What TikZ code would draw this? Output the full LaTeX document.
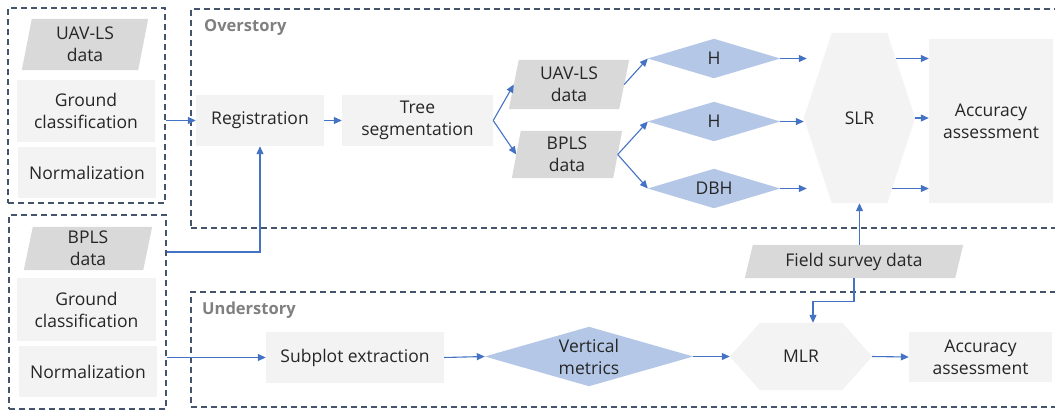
\documentclass[tikz,border=0pt]{standalone}
\usepackage{fontspec}
\setmainfont{Open Sans}
\usetikzlibrary{arrows.meta,calc,backgrounds}

\definecolor{boxgray}{HTML}{F2F3F2}
\definecolor{datagray}{HTML}{D9D9D9}
\definecolor{metricblue}{HTML}{B4C7E7}
\definecolor{flowblue}{HTML}{4472C4}
\definecolor{frameslate}{HTML}{44546A}
\definecolor{inkgray}{HTML}{262626}
\definecolor{labelgray}{HTML}{808080}

\tikzset{
  txt/.style={font=\fontsize{17.5}{22}\selectfont, text=inkgray, align=center, inner sep=0pt},
  procbox/.style={txt, fill=boxgray},
  frame/.style={draw=frameslate, dash pattern=on 6pt off 4pt, line width=1.1pt, inner sep=0pt},
  flow/.style={draw=flowblue, line width=1.1pt, -{Triangle[length=8pt,width=7pt]}},
  tag/.style={font=\fontsize{16.5}{20}\selectfont\bfseries, text=labelgray, inner sep=0pt, anchor=west},
}

% background shapes built from a node's bounding box
\newcommand\datashape[2]{\fill[datagray] (#1.south west) -- ($(#1.north west)+(#2,0)$) -- (#1.north east) -- ($(#1.south east)-(#2,0)$) -- cycle;}
\newcommand\metricshape[1]{\fill[metricblue] (#1.west) -- (#1.north) -- (#1.east) -- (#1.south) -- cycle;}
\newcommand\modelshape[2]{\fill[boxgray] (#1.west) -- ($(#1.north west)+(#2,0)$) -- ($(#1.north east)-(#2,0)$) -- (#1.east) -- ($(#1.south east)-(#2,0)$) -- ($(#1.south west)+(#2,0)$) -- cycle;}

\begin{document}
\begin{tikzpicture}[x=1pt,y=-1pt]
\clip (0,0) rectangle (1055,410);

% ---------- frames ----------
\node[frame, minimum width=157, minimum height=195] (ltbox) at (86.5,105.5) {};
\node[frame, minimum width=157, minimum height=194] (lbbox) at (87.5,312) {};
\node[frame, minimum width=880, minimum height=219] (over) at (631,118.5) {};
\node[frame, minimum width=880, minimum height=115] (under) at (631,349.5) {};
\node[tag] (overlbl) at (204,27) {Overstory};
\node[tag] (underlbl) at (202,310) {Understory};

% ---------- UAV-LS preprocessing ----------
\node[txt, minimum width=126, minimum height=51] (uav1) at (85,44.5) {UAV-LS\\data};
\node[procbox, minimum width=138, minimum height=62] (gc1) at (86,111) {Ground\\classification};
\node[procbox, minimum width=138, minimum height=51] (norm1) at (87,172.5) {Normalization};

% ---------- BPLS preprocessing ----------
\node[txt, minimum width=128, minimum height=43] (bpls1) at (88,248.5) {BPLS\\data};
\node[procbox, minimum width=139, minimum height=63] (gc2) at (86.5,309.5) {Ground\\classification};
\node[procbox, minimum width=138, minimum height=51] (norm2) at (88,371.5) {Normalization};

% ---------- overstory ----------
\node[procbox, minimum width=128, minimum height=51] (reg) at (260,120.5) {Registration};
\node[procbox, minimum width=151, minimum height=51] (tree) at (417.5,120.5) {Tree\\segmentation};
\node[txt, minimum width=120, minimum height=49] (uav2) at (569,84.5) {UAV-LS\\data};
\node[txt, minimum width=110, minimum height=47] (bpls2) at (567,154.5) {BPLS\\data};
\node[txt, minimum width=132, minimum height=39] (h1) at (714,58.5) {H};
\node[txt, minimum width=132, minimum height=39] (h2) at (714,121.5) {H};
\node[txt, minimum width=132, minimum height=39] (dbh) at (714,188.5) {DBH};
\node[txt, minimum width=111, minimum height=170] (slr) at (859.5,118) {SLR};
\node[procbox, minimum width=124, minimum height=164] (acc1) at (991,121) {Accuracy\\assessment};

% ---------- field data ----------
\node[txt, minimum width=218, minimum height=33] (field) at (854,261.5) {Field survey data};

% ---------- understory ----------
\node[procbox, minimum width=178, minimum height=51] (sub) at (355,357.5) {Subplot extraction};
\node[txt, minimum width=208, minimum height=59] (vm) at (589,356.5) {Vertical\\metrics};
\node[txt, minimum width=142, minimum height=67] (mlr) at (801,356.5) {MLR};
\node[procbox, minimum width=143, minimum height=50] (acc2) at (980.5,357) {Accuracy\\assessment};

% ---------- shape fills ----------
\begin{scope}[on background layer]
  \datashape{uav1}{10}
  \datashape{bpls1}{9}
  \datashape{uav2}{10}
  \datashape{bpls2}{9}
  \datashape{field}{8}
  \metricshape{h1}
  \metricshape{h2}
  \metricshape{dbh}
  \metricshape{vm}
  \modelshape{slr}{28}
  \modelshape{mlr}{30}
\end{scope}

% ---------- connectors ----------
\draw[flow] (ltbox.east |- reg.west) -- (reg.west);
\draw[flow] (reg.east) -- (tree.west);
\draw[flow] (tree.east) -- ($(uav2.west)+(5,0)$);
\draw[flow] (tree.east) -- ($(bpls2.west)+(4.5,0)$);
\draw[flow] ($(uav2.east)-(5,0)$) -- (h1.west);
\draw[flow] ($(bpls2.east)-(4.5,0)$) -- (h2.west);
\draw[flow] ($(bpls2.east)-(4.5,0)$) -- (dbh.west);
\draw[flow] (h1.east) -- ($(slr.west |- h1.east)+(3,0)$);
\draw[flow] (h2.east) -- (slr.west |- h2.east);
\draw[flow] (dbh.east) -- ($(slr.west |- dbh.east)+(3,0)$);
\draw[flow, shorten <=36pt] (slr.center |- h1.east) -- (acc1.west |- h1.east);
\draw[flow] (slr.east) -- (acc1.west |- slr.east);
\draw[flow, shorten <=32pt] (slr.center |- dbh.east) -- (acc1.west |- dbh.east);
\draw[flow] (slr.south |- field.north) -- (slr.south);
\draw[flow] (field.south) -- ++(0,23) -| ($(mlr.north)+(12,0)$);
\draw[flow] ($(lbbox.east)+(0,-60)$) -| (reg.south);
\draw[flow] (lbbox.east |- sub.west) -- (sub.west);
\draw[flow] (sub.east) -- (vm.west);
\draw[flow] (vm.east) -- (mlr.west);
\draw[flow] (mlr.east) -- (acc2.west);
\end{tikzpicture}
\end{document}
